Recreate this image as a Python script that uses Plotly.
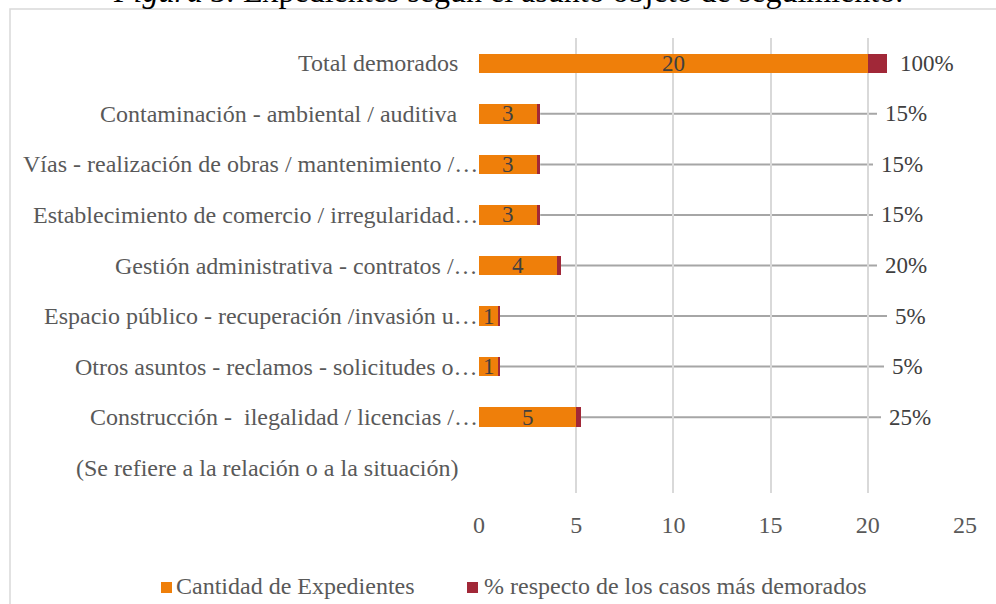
import plotly.graph_objects as go

# ---------------- data ----------------
categories = [
    "Total demorados",
    "Contaminación - ambiental / auditiva",
    "Vías - realización de obras / mantenimiento /…",
    "Establecimiento de comercio / irregularidad…",
    "Gestión administrativa - contratos /…",
    "Espacio público - recuperación /invasión u…",
    "Otros asuntos - reclamos - solicitudes o…",
    "Construcción - \u00a0ilegalidad / licencias /…",
    "(Se refiere a la relación o a la situación)",
]
cantidad = [20, 3, 3, 3, 4, 1, 1, 5, None]
porcentaje = [1.00, 0.15, 0.15, 0.15, 0.20, 0.05, 0.05, 0.25, None]
x_ticks = [0, 5, 10, 15, 20, 25]
series_names = ["Cantidad de Expedientes", "% respecto de los casos más demorados"]
title_html = "<i>Figura 5.</i> Expedientes según el asunto objeto de seguimiento."

# ---------------- style ----------------
ORANGE = "#EF7F0A"
RED = "#A12838"
GRID = "#D9D9D9"
LEADER = "#A6A6A6"
TXT = "#404040"
AXT = "#595959"
FONT = "Liberation Serif"

W, H = 996, 604
L, R, T, B = 479, 31, 38, 111
PW, PH = W - L - R, H - T - B

def px_x(px):
    return (px - L) / PW

def px_y(py):
    return (H - B - py) / PH

def data_from_px(px):
    return (px - L) / PW * (x_ticks[-1] - x_ticks[0]) + x_ticks[0]

# leader-line end positions (screen px) for the percentage labels
leader_end_px = [None, 877, 873, 873, 877, 887, 884, 881, None]

idx = list(range(len(categories)))

fig = go.Figure()
fig.add_trace(go.Bar(
    y=idx, x=cantidad, orientation="h", name=series_names[0],
    marker=dict(color=ORANGE, line=dict(width=0)), width=0.386, showlegend=False,
))
fig.add_trace(go.Bar(
    y=idx, x=porcentaje, orientation="h", name=series_names[1],
    marker=dict(color=RED, line=dict(width=0)), width=0.386, showlegend=False,
))

annotations = []
shapes = []

# category labels
for i, cat in enumerate(categories):
    trunc = cat.endswith("…")
    annotations.append(dict(
        xref="paper", yref="y", x=0, y=i, xanchor="right", yanchor="middle",
        xshift=-1 if trunc else -21, text=cat, showarrow=False,
        font=dict(family=FONT, size=24, color=AXT), borderpad=0, borderwidth=0,
    ))

# value labels + percentage labels + leader lines
for i, (c, p) in enumerate(zip(cantidad, porcentaje)):
    if c is None:
        continue
    annotations.append(dict(
        xref="x", yref="y", x=c / 2, y=i, text=str(c), showarrow=False,
        font=dict(family=FONT, size=23, color=TXT), xanchor="center", yanchor="middle",
    ))
    end = c + p
    if leader_end_px[i] is None:
        annotations.append(dict(
            xref="x", yref="y", x=end, y=i, xanchor="left", xshift=13,
            text=f"{round(p * 100)}%", showarrow=False, borderpad=0, borderwidth=0,
            font=dict(family=FONT, size=23, color=TXT),
        ))
    else:
        lx = data_from_px(leader_end_px[i])
        shapes.append(dict(
            type="line", xref="x", yref="y", x0=end, x1=lx, y0=i, y1=i,
            line=dict(color=LEADER, width=2), layer="below",
        ))
        annotations.append(dict(
            xref="x", yref="y", x=lx, y=i, xanchor="left", xshift=8,
            text=f"{round(p * 100)}%", showarrow=False, borderpad=0, borderwidth=0,
            font=dict(family=FONT, size=23, color=TXT),
        ))

# chart border (extends beyond the right/bottom edges)
shapes.append(dict(
    type="rect", xref="paper", yref="paper",
    x0=px_x(10), x1=px_x(1010), y0=px_y(9), y1=px_y(620),
    line=dict(color=GRID, width=1.5), fillcolor="rgba(0,0,0,0)", layer="below",
))

# custom legend
leg_y = 586
leg_items = [(161, 176, ORANGE, series_names[0]), (467, 484, RED, series_names[1])]
for sx, tx, col, name in leg_items:
    shapes.append(dict(
        type="rect", xref="paper", yref="paper",
        x0=px_x(sx), x1=px_x(sx + 11), y0=px_y(leg_y - 4), y1=px_y(leg_y + 7),
        line=dict(width=0), fillcolor=col,
    ))
    annotations.append(dict(
        xref="paper", yref="paper", x=px_x(tx), y=px_y(leg_y), xanchor="left",
        yanchor="middle", text=name, showarrow=False, borderpad=0, borderwidth=0,
        font=dict(family=FONT, size=24, color=AXT),
    ))

# title (partly cut off at the top, as in the reference)
annotations.append(dict(
    xref="paper", yref="paper", x=px_x(508), y=px_y(9), xanchor="center",
    yanchor="bottom", text=title_html, showarrow=False, borderpad=0, borderwidth=0,
    font=dict(family=FONT, size=32, color="#000000"),
))

fig.update_layout(
    width=W, height=H, margin=dict(l=L, r=R, t=T, b=B),
    paper_bgcolor="white", plot_bgcolor="white",
    barmode="stack", showlegend=False,
    annotations=annotations, shapes=shapes,
    xaxis=dict(
        range=[x_ticks[0], x_ticks[-1]], tickvals=x_ticks, ticktext=[str(t) for t in x_ticks],
        showgrid=True, gridcolor=GRID, gridwidth=1.5, zeroline=False, showline=False,
        ticks="", ticklabelstandoff=15,
        tickfont=dict(family=FONT, size=24, color=AXT), fixedrange=True,
    ),
    yaxis=dict(
        range=[len(categories) - 0.5, -0.5], showticklabels=False, showgrid=False,
        zeroline=False, showline=False, fixedrange=True,
    ),
)

fig.write_html(
    "out.html",
    config={"displayModeBar": False},
    post_script="document.body.style.margin='0';document.body.style.overflow='hidden';",
)
